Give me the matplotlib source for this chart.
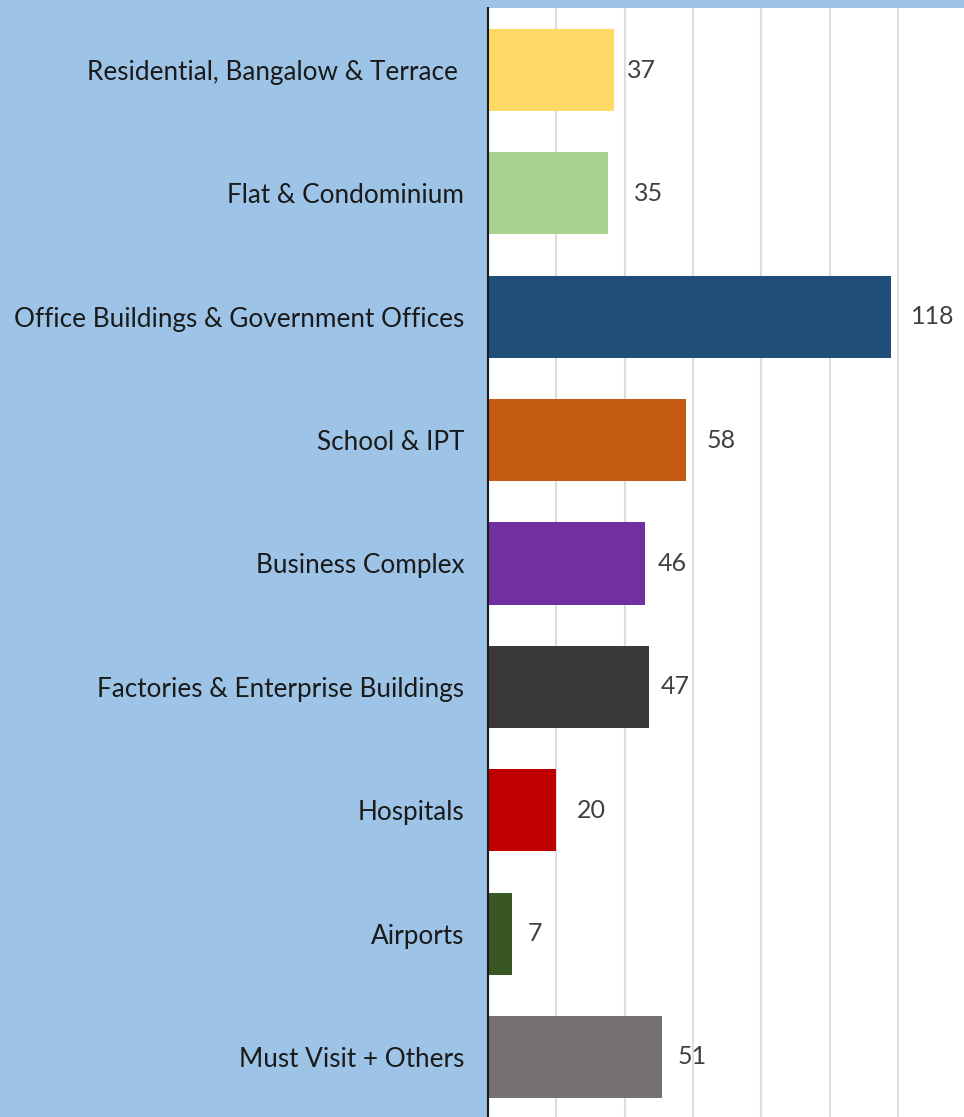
import matplotlib
matplotlib.use("Agg")
import matplotlib.pyplot as plt

categories = [
    "Residential, Bangalow & Terrace ",
    "Flat & Condominium",
    "Office Buildings & Government Offices",
    "School & IPT",
    "Business Complex",
    "Factories & Enterprise Buildings",
    "Hospitals",
    "Airports",
    "Must Visit + Others",
]
counts = [37, 35, 118, 58, 46, 47, 20, 7, 51]
bar_colors = ["#FFD966", "#A9D18E", "#1F4E79", "#C55A11", "#7030A0",
              "#3A3838", "#C00000", "#385723", "#767171"]
# gap between bar end and its value label, in points (labels were hand-placed)
label_gaps = [9, 19, 14, 15, 9, 9, 15, 11, 11]

plt.rcParams["font.family"] = ["Lato", "DejaVu Sans"]

fig = plt.figure(figsize=(9.64, 11.17), dpi=100, facecolor="#9DC3E6")
ax = fig.add_axes([488 / 964, 0, 476 / 964, 1 - 8 / 1117])
ax.set_facecolor("white")

y = range(len(categories))
ax.barh(y, counts, height=0.665, color=bar_colors, zorder=3)

for i, (v, g) in enumerate(zip(counts, label_gaps)):
    ax.annotate(str(v), (v, i), xytext=(g, 0), textcoords="offset points",
                ha="left", va="center", fontsize=18, color="#404040")

ax.set_xlim(0, 139.3)
ax.set_ylim(8.487, -0.503)
ax.set_xticks(range(0, 140, 20))
ax.grid(axis="x", color="#DDDDDD", linewidth=1.5, zorder=0)
ax.tick_params(axis="x", length=0, labelbottom=False)
ax.tick_params(axis="y", length=0, pad=17)
ax.set_yticks(list(y))
ax.set_yticklabels(categories, fontsize=18.8, color="#1a1a1a")

for side in ["top", "right", "bottom"]:
    ax.spines[side].set_visible(False)
ax.spines["left"].set_color("#1a1a1a")
ax.spines["left"].set_linewidth(1.5)
ax.spines["left"].set_zorder(4)

fig.savefig("out.png", dpi=100, facecolor=fig.get_facecolor())
